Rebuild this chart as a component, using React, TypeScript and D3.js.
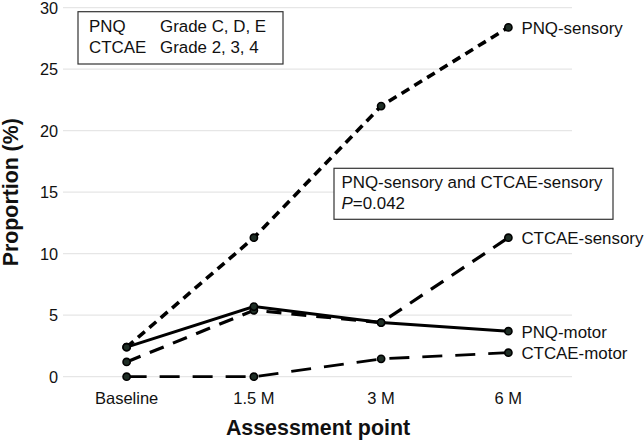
import React from "react";
import * as d3 from "d3";

const categories = ["Baseline", "1.5 M", "3 M", "6 M"];
const pnqSensory = [2.4, 11.3, 22.0, 28.4];
const ctcaeSensory = [1.2, 5.4, 4.4, 11.3];
const pnqMotor = [2.4, 5.7, 4.4, 3.7];
const ctcaeMotor = [0, 0, 1.45, 1.95];
const yTicks = [0, 5, 10, 15, 20, 25, 30];

const seriesList = [
  { name: "PNQ-sensory", values: pnqSensory, dash: "9,6", width: 3.6 },
  { name: "CTCAE-sensory", values: ctcaeSensory, dash: "15,10", width: 3.2 },
  { name: "PNQ-motor", values: pnqMotor, dash: "", width: 3 },
  { name: "CTCAE-motor", values: ctcaeMotor, dash: "20,13", width: 2.8 },
];

export default function App() {
  const W = 644, H = 441;
  const x = d3.scalePoint<string>().domain(categories).range([63, 572]).padding(0.5);
  const y = d3.scaleLinear().domain([0, 30]).range([376.7, 7.7]);
  const line = d3.line<number>().x((_, i) => x(categories[i])!).y((v) => y(v));
  const font = "Liberation Sans, Arial, sans-serif";
  const fs = 16.9;
  return (
    <svg width={W} height={H} style={{ position: "absolute", left: 0, top: 0 }} fontFamily={font}>
      <rect width={W} height={H} fill="#fff" />
      {yTicks.map((t) => (
        <g key={t}>
          <line x1={63} x2={572} y1={y(t)} y2={y(t)} stroke="#e6e6e6" strokeWidth={1.2} />
          <text x={58} y={y(t)} dy="0.36em" textAnchor="end" fontSize={16.3} fill="#111">{t}</text>
        </g>
      ))}
      {categories.map((c) => (
        <text key={c} x={x(c)} y={404} textAnchor="middle" fontSize={16.5} fill="#111">{c}</text>
      ))}
      <text x={318} y={435} textAnchor="middle" fontSize={21.4} fontWeight="bold" fill="#111">Assessment point</text>
      <text transform={`translate(18,${y(15)}) rotate(-90)`} textAnchor="middle" fontSize={21.3} fontWeight="bold" fill="#111">Proportion (%)</text>
      {seriesList.map((s) => (
        <g key={s.name}>
          <path d={line(s.values)!} fill="none" stroke="#000" strokeWidth={s.width} strokeDasharray={s.dash || undefined} />
          {s.values.map((v, i) => (
            <circle key={i} cx={x(categories[i])} cy={y(v)} r={3.6} fill="#1f2e26" stroke="#000" strokeWidth={1.6} />
          ))}
          <text x={x(categories[3])! + 13} y={y(s.values[3])} dy="0.38em" fontSize={fs} fill="#111">{s.name}</text>
        </g>
      ))}
      <rect x={78} y={11.7} width={205} height={52.3} fill="#fff" stroke="#333" strokeWidth={1.2} />
      <text x={89} y={32.3} fontSize={fs} fill="#111">PNQ</text>
      <text x={160} y={32.3} fontSize={fs} fill="#111">Grade C, D, E</text>
      <text x={89} y={53.3} fontSize={fs} fill="#111">CTCAE</text>
      <text x={160} y={53.3} fontSize={fs} fill="#111">Grade 2, 3, 4</text>
      <rect x={334} y={168.3} width={279} height={51} fill="#fff" stroke="#333" strokeWidth={1.2} />
      <text x={341.5} y={187.7} fontSize={fs} fill="#111">PNQ-sensory and CTCAE-sensory</text>
      <text x={341.5} y={209} fontSize={fs} fill="#111"><tspan fontStyle="italic">P</tspan>=0.042</text>
    </svg>
  );
}
